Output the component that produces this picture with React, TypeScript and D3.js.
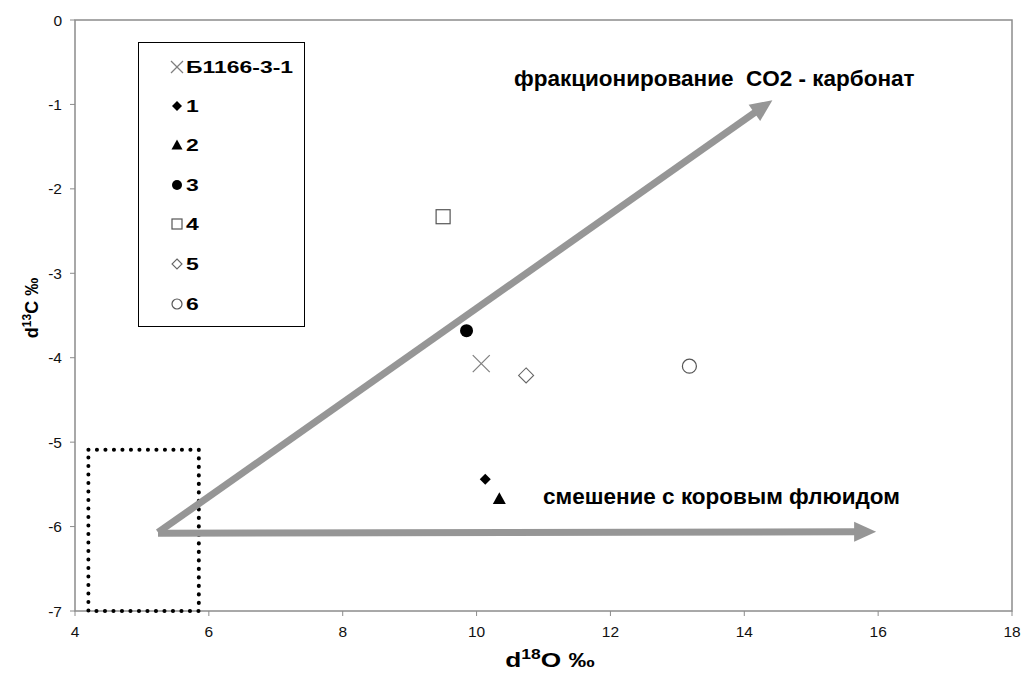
import React from 'react'
import * as d3 from 'd3'

// sample points (d18O, d13C)
const seriesNames = ['Б1166-3-1', '1', '2', '3', '4', '5', '6']
const seriesX = [10.07, 10.13, 10.34, 9.85, 9.5, 10.74, 13.18]
const seriesY = [-4.07, -5.44, -5.67, -3.68, -2.33, -4.21, -4.1]
const seriesMarkers = ['cross', 'diamondFilled', 'triangle', 'circleFilled', 'square', 'diamond', 'circle']

const xTicks = [4, 6, 8, 10, 12, 14, 16, 18]
const yTicks = [0, -1, -2, -3, -4, -5, -6, -7]

// arrows: [x1, y1, x2, y2]
const arrowUp = [5.24, -6.07, 14.42, -0.95]
const arrowRight = [5.24, -6.08, 15.97, -6.06]
// dotted field of mantle carbon
const fieldBox = [4.2, -5.09, 5.85, -7]

const W = 1022
const H = 673
const margin = { left: 75, right: 10, top: 20, bottom: 62 }
const font = '"Liberation Sans", Arial, sans-serif'

const x = d3.scaleLinear().domain([4, 18]).range([margin.left, W - margin.right])
const y = d3.scaleLinear().domain([-7, 0]).range([H - margin.bottom, margin.top])

const Marker = ({ type, cx, cy, r }: { type: string; cx: number; cy: number; r: number }) => {
  switch (type) {
    case 'cross':
      return (
        <g stroke="#7f7f7f" strokeWidth={1.2}>
          <line x1={cx - r} y1={cy - r} x2={cx + r} y2={cy + r} />
          <line x1={cx - r} y1={cy + r} x2={cx + r} y2={cy - r} />
        </g>
      )
    case 'diamondFilled':
      return <path d={`M${cx},${cy - r}L${cx + r},${cy}L${cx},${cy + r}L${cx - r},${cy}Z`} fill="#000" />
    case 'triangle':
      return <path d={`M${cx},${cy - r}L${cx + r},${cy + r * 0.8}L${cx - r},${cy + r * 0.8}Z`} fill="#000" />
    case 'circleFilled':
      return <circle cx={cx} cy={cy} r={r} fill="#000" />
    case 'square':
      return <rect x={cx - r} y={cy - r} width={r * 2} height={r * 2} fill="#fff" stroke="#555" strokeWidth={1.2} />
    case 'diamond':
      return <path d={`M${cx},${cy - r}L${cx + r},${cy}L${cx},${cy + r}L${cx - r},${cy}Z`} fill="#fff" stroke="#666" strokeWidth={1.1} />
    default:
      return <circle cx={cx} cy={cy} r={r} fill="#fff" stroke="#555" strokeWidth={1.2} />
  }
}

// marker half-sizes in the plot and in the legend
const plotR = [8.5, 5.5, 6.5, 6.5, 7, 7.5, 7]
const legendR = [6, 5, 5.5, 5, 5, 5, 5]

const Arrow = ({ a }: { a: number[] }) => {
  const x1 = x(a[0]), y1 = y(a[1]), x2 = x(a[2]), y2 = y(a[3])
  const ang = Math.atan2(y2 - y1, x2 - x1)
  const len = 22, half = 10
  const bx = x2 - len * Math.cos(ang), by = y2 - len * Math.sin(ang)
  const px = -Math.sin(ang) * half, py = Math.cos(ang) * half
  return (
    <g>
      <line x1={x1} y1={y1} x2={bx + 2 * Math.cos(ang)} y2={by + 2 * Math.sin(ang)} stroke="#969696" strokeWidth={7} />
      <path d={`M${x2},${y2}L${bx + px},${by + py}L${bx - px},${by - py}Z`} fill="#969696" />
    </g>
  )
}

export default function App() {
  const x0 = margin.left
  const yb = H - margin.bottom
  const legendY = [67, 106, 145, 185, 224, 264, 304]
  return (
    <svg width={W} height={H} style={{ position: 'absolute', left: 0, top: 0, background: '#fff' }} fontFamily={font}>
      {/* plot frame */}
      <rect x={x0} y={margin.top} width={W - margin.right - x0} height={yb - margin.top} fill="none" stroke="#8c8c8c" strokeWidth={1.5} />
      {yTicks.map((t) => (
        <g key={'y' + t}>
          <line x1={x0 - 5} x2={x0} y1={y(t)} y2={y(t)} stroke="#8c8c8c" />
          <text x={x0 - 13} y={y(t) + 5.5} textAnchor="end" fontSize={15.5} fill="#111">{t === 0 ? '0' : '-' + Math.abs(t)}</text>
        </g>
      ))}
      {xTicks.map((t) => (
        <g key={'x' + t}>
          <line x1={x(t)} x2={x(t)} y1={yb} y2={yb + 5} stroke="#8c8c8c" />
          <text x={x(t)} y={yb + 26} textAnchor="middle" fontSize={15.5} fill="#111">{t}</text>
        </g>
      ))}
      <text transform="translate(550,667) scale(1.25,1)" textAnchor="middle" fontSize={21} fontWeight="bold">
        d<tspan fontSize={14} dy={-8}>18</tspan><tspan dy={8}>O ‰</tspan>
      </text>
      <text transform="translate(38,308) rotate(-90)" textAnchor="middle" fontSize={18} fontWeight="bold">
        d<tspan fontSize={12} dy={-7}>13</tspan><tspan dy={7}>C ‰</tspan>
      </text>

      {/* dotted field */}
      <rect x={x(fieldBox[0])} y={y(fieldBox[1])} width={x(fieldBox[2]) - x(fieldBox[0])} height={y(fieldBox[3]) - y(fieldBox[1])}
        fill="none" stroke="#000" strokeWidth={4} strokeDasharray="0.1 8.4" strokeLinecap="round" />

      <Arrow a={arrowUp} />
      <Arrow a={arrowRight} />

      <text x={514} y={86} fontSize={22.5} fontWeight="bold" style={{ whiteSpace: 'pre' }}>фракционирование  CO2 - карбонат</text>
      <text x={543} y={504} fontSize={22.5} fontWeight="bold">смешение с коровым флюидом</text>

      {seriesNames.map((n, i) => (
        <Marker key={n} type={seriesMarkers[i]} cx={x(seriesX[i])} cy={y(seriesY[i])} r={plotR[i]} />
      ))}

      {/* legend */}
      <rect x={138.5} y={42.5} width={166} height={284} fill="#fff" stroke="#000" strokeWidth={1} />
      {seriesNames.map((n, i) => (
        <g key={'l' + n}>
          <Marker type={seriesMarkers[i]} cx={177} cy={legendY[i]} r={legendR[i]} />
          <text transform={`translate(186,${legendY[i] + 6}) scale(1.35,1)`} fontSize={17} fontWeight="bold">{n}</text>
        </g>
      ))}
    </svg>
  )
}
